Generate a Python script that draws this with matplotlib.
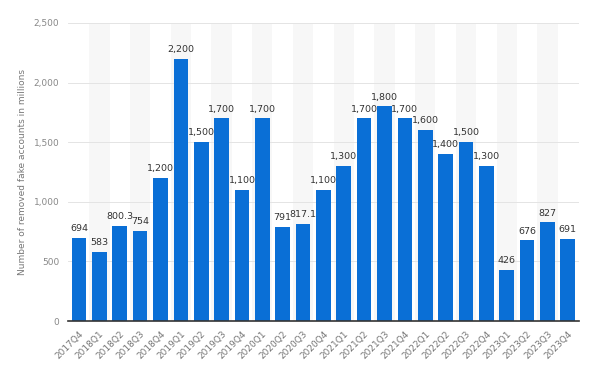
import matplotlib
matplotlib.use("Agg")
import matplotlib.pyplot as plt
import numpy as np

quarters = ["2017Q4", "2018Q1", "2018Q2", "2018Q3", "2018Q4", "2019Q1", "2019Q2", "2019Q3",
            "2019Q4", "2020Q1", "2020Q2", "2020Q3", "2020Q4", "2021Q1", "2021Q2", "2021Q3",
            "2021Q4", "2022Q1", "2022Q2", "2022Q3", "2022Q4", "2023Q1", "2023Q2", "2023Q3", "2023Q4"]
values = [694, 583, 800.3, 754, 1200, 2200, 1500, 1700, 1100, 1700, 791, 817.1, 1100, 1300,
          1700, 1800, 1700, 1600, 1400, 1500, 1300, 426, 676, 827, 691]
labels = ["694", "583", "800.3", "754", "1,200", "2,200", "1,500", "1,700", "1,100", "1,700",
          "791", "817.1", "1,100", "1,300", "1,700", "1,800", "1,700", "1,600", "1,400", "1,500",
          "1,300", "426", "676", "827", "691"]
yticks = [0, 500, 1000, 1500, 2000, 2500]

fig = plt.figure(figsize=(6, 3.69), dpi=100)
ax = fig.add_axes([0.113, 0.13, 0.852, 0.808])
x = np.arange(len(quarters))

for i in x:
    if i % 2 == 1:
        ax.axvspan(i - 0.5, i + 0.5, color="#f7f7f7", zorder=0, lw=0)

ax.bar(x, values, width=0.72, color="#0a6fd6", zorder=3)
for xi, v, lab in zip(x, values, labels):
    ax.text(xi, v + 40, lab, ha="center", va="bottom", fontsize=6.8, color="#333333", zorder=4)

ax.set_xlim(-0.55, len(quarters) - 0.45)
ax.set_ylim(0, 2500)
ax.set_yticks(yticks)
ax.set_yticklabels([f"{t:,}" for t in yticks], fontsize=6.5, color="#888888")
ax.yaxis.grid(True, color="#e4e4e4", linestyle="-", lw=0.7, zorder=1)
ax.set_xticks(x)
ax.set_xticklabels(quarters, rotation=45, ha="right", rotation_mode="anchor", fontsize=6.5, color="#777777")
ax.tick_params(axis="both", length=0, pad=6)
for s in ["top", "right", "left"]:
    ax.spines[s].set_visible(False)
ax.spines["bottom"].set_color("#333333")
ax.spines["bottom"].set_linewidth(1.2)
ax.spines["bottom"].set_zorder(5)
ax.set_ylabel("Number of removed fake accounts in millions", fontsize=6.5, color="#777777", labelpad=5)

fig.savefig("out.png", dpi=100, facecolor="white")
